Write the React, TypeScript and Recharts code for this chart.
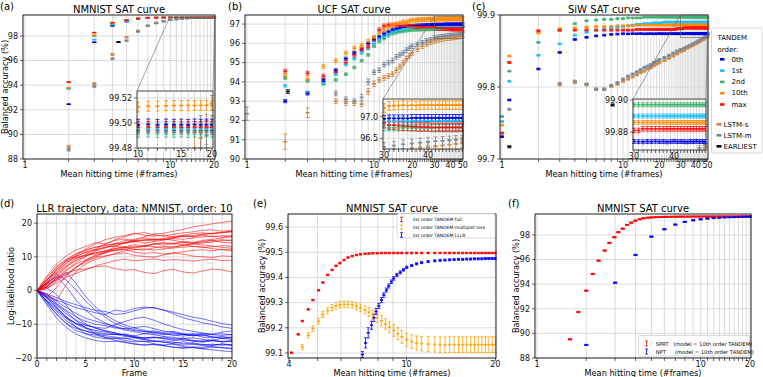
import React from "react";
import { ComposedChart, Scatter, Line, XAxis, YAxis, CartesianGrid, ErrorBar } from "recharts";

const W = 763;
const H = 377;
const FONT = "'DejaVu Sans', sans-serif";
const GRID = "#d2d2d2";

// series colours
const C_O0 = "#0000dd";
const C_O1 = "#1ec0f2";
const C_O2 = "#3cb371";
const C_O10 = "#ff8c00";
const C_MAX = "#ff1010";
const C_LS = "#cd853f";
const C_LM = "#778899";
const C_EA = "#000000";

// ---------- (a) NMNIST SAT curve ----------
const aX = [2, 3, 4, 5, 6, 7, 8, 9, 10, 11, 12, 13, 14, 15, 16, 17, 18, 19, 20];
const aOrd0 = [92.45, 97.48, 98.82, 99.17, 99.37, 99.45, 99.48, 99.49, 99.4985, 99.4988, 99.4984, 99.4987, 99.4985, 99.4986, 99.4984, 99.4987, 99.4985, 99.4986, 99.4985];
const aOrd1 = [93.7, 97.7, 98.9, 99.22, 99.4, 99.46, 99.48, 99.49, 99.4952, 99.4954, 99.4951, 99.4953, 99.4952, 99.4954, 99.4951, 99.4953, 99.4952, 99.4954, 99.4952];
const aOrd2 = [93.76, 98.0, 99.0, 99.26, 99.42, 99.47, 99.485, 99.49, 99.4928, 99.493, 99.4927, 99.4929, 99.4928, 99.493, 99.4927, 99.4929, 99.4928, 99.493, 99.4928];
const aOrd10 = [93.8, 98.05, 99.05, 99.3, 99.45, 99.49, 99.505, 99.51, 99.5128, 99.5134, 99.5136, 99.5138, 99.514, 99.514, 99.5141, 99.514, 99.5141, 99.5142, 99.5142];
const aMax = [94.25, 98.27, 99.08, 99.3, 99.42, 99.48, 99.49, 99.495, 99.4966, 99.4967, 99.4965, 99.4966, 99.4967, 99.4965, 99.4966, 99.4967, 99.4965, 99.4966, 99.4966];
const aLstmS = [89.0, 94.12, 96.5, 97.9, 98.42, 98.85, 99.08, 99.22, 99.3, 99.36, 99.4, 99.43, 99.45, 99.46, 99.47, 99.48, 99.488, 99.495, 99.516];
const aLstmM = [88.75, 93.9, 96.15, 97.62, 98.35, 98.8, 99.02, 99.17, 99.27, 99.33, 99.38, 99.41, 99.44, 99.45, 99.46, 99.47, 99.493, 99.49, 99.5];
const aLstmErr = [0.12, 0.1, 0.08, 0.06, 0.05, 0.04, 0.03, 0.03, 0.02, 0.02, 0.02, 0.015, 0.015, 0.012, 0.012, 0.012, 0.013, 0.012, 0.006];
const aEarlyX = [4.4];
const aEarly = [97.5];

// ---------- (b) UCF SAT curve ----------
const bX = [
  2, 3, 4, 5, 6, 7, 8, 9, 10, 11,
  12, 13, 14, 15, 16, 17, 18, 19, 20, 21,
  22, 23, 24, 25, 26, 27, 28, 29, 30, 31,
  32, 33, 34, 35, 36, 37, 38, 39, 40, 41,
  42, 43, 44, 45, 46, 47, 48, 49, 50,
];
const bOrd0 = [
  93.0, 93.4, 94.1, 94.6, 95.2, 95.5, 95.7, 96.0, 96.2, 96.35,
  96.5, 96.6, 96.7, 96.75, 96.8, 96.85, 96.88, 96.9, 96.9, 96.91,
  96.92, 96.92, 96.93, 96.93, 96.94, 96.94, 96.95, 96.95, 96.95, 96.96,
  96.96, 96.96, 96.96, 96.96, 96.97, 96.97, 96.97, 96.97, 96.97, 96.97,
  96.97, 96.97, 96.97, 96.97, 96.97, 96.97, 96.97, 96.97, 96.97,
];
const bOrd1 = [
  93.8, 93.45, 93.95, 94.4, 94.9, 95.2, 95.5, 95.75, 96.0, 96.2,
  96.35, 96.5, 96.6, 96.65, 96.7, 96.75, 96.78, 96.8, 96.82, 96.83,
  96.84, 96.85, 96.86, 96.86, 96.87, 96.87, 96.88, 96.88, 96.89, 96.89,
  96.89, 96.9, 96.9, 96.9, 96.9, 96.9, 96.9, 96.9, 96.9, 96.9,
  96.9, 96.9, 96.9, 96.9, 96.9, 96.9, 96.9, 96.9, 96.9,
];
const bOrd2 = [
  94.2, 94.05, 93.9, 94.1, 94.4, 94.75, 95.1, 95.4, 95.85, 96.1,
  96.25, 96.4, 96.5, 96.55, 96.6, 96.63, 96.66, 96.68, 96.7, 96.7,
  96.71, 96.71, 96.72, 96.72, 96.73, 96.73, 96.73, 96.74, 96.74, 96.74,
  96.74, 96.74, 96.74, 96.74, 96.74, 96.74, 96.74, 96.74, 96.74, 96.74,
  96.75, 96.75, 96.75, 96.75, 96.75, 96.75, 96.75, 96.75, 96.75,
];
const bOrd10 = [
  94.3, 94.15, 94.8, 95.1, 95.5, 95.75, 95.9, 96.1, 96.3, 96.55,
  96.7, 96.85, 96.95, 97.0, 97.05, 97.1, 97.1, 97.15, 97.2, 97.2,
  97.22, 97.22, 97.23, 97.24, 97.24, 97.25, 97.25, 97.25, 97.2, 97.25,
  97.26, 97.26, 97.27, 97.26, 97.27, 97.26, 97.27, 97.27, 97.27, 97.27,
  97.27, 97.27, 97.27, 97.27, 97.27, 97.27, 97.27, 97.27, 97.27,
];
const bMax = [
  94.55, 94.45, 94.3, 94.5, 95.0, 95.4, 95.7, 95.8, 96.25, 96.7,
  96.9, 96.95, 96.95, 96.95, 96.92, 96.9, 96.9, 96.88, 96.88, 96.87,
  96.86, 96.86, 96.85, 96.85, 96.84, 96.84, 96.83, 96.83, 96.86, 96.8,
  96.8, 96.79, 96.78, 96.78, 96.77, 96.77, 96.76, 96.76, 96.76, 96.75,
  96.75, 96.75, 96.75, 96.75, 96.75, 96.75, 96.75, 96.75, 96.75,
];
const bLstmMX = [1, 5, 6, 7, 8, 9, 10, 11, 12, 13, 14, 15, 16, 17, 18, 19, 20, 22, 24, 26, 28, 30, 32, 34, 36, 38, 40, 42, 44, 46, 48, 50];
const bLstmM = [92.35, 93.4, 93.1, 93.0, 93.2, 94.0, 94.5, 94.6, 94.9, 95.0, 95.1, 95.3, 95.4, 95.5, 95.65, 95.75, 95.85, 95.95, 96.05, 96.15, 96.2, 96.3, 96.33, 96.36, 96.38, 96.4, 96.42, 96.43, 96.44, 96.45, 96.46, 96.47];
const bLstmMErr = [0.35, 0.12, 0.12, 0.12, 0.15, 0.15, 0.12, 0.12, 0.12, 0.12, 0.12, 0.12, 0.12, 0.12, 0.12, 0.12, 0.12, 0.1, 0.1, 0.1, 0.1, 0.1, 0.1, 0.1, 0.1, 0.1, 0.1, 0.1, 0.1, 0.1, 0.1, 0.1];
const bLstmSX = [2, 3, 5, 6, 7, 8, 9, 10, 11, 12, 13, 14, 15, 16, 17, 18, 19, 20, 22, 24, 26, 28, 30, 32, 34, 36, 38, 40, 42, 44, 46, 48, 50];
const bLstmS = [90.9, 92.4, 93.0, 92.9, 92.9, 92.85, 93.5, 93.9, 94.1, 94.2, 94.3, 94.4, 94.6, 94.8, 95.0, 95.2, 95.35, 95.5, 95.7, 95.85, 95.95, 96.05, 96.12, 96.18, 96.22, 96.25, 96.27, 96.29, 96.31, 96.33, 96.35, 96.37, 96.4];
const bLstmSErr = [0.4, 0.25, 0.12, 0.12, 0.12, 0.12, 0.15, 0.15, 0.12, 0.12, 0.12, 0.12, 0.12, 0.12, 0.12, 0.12, 0.12, 0.12, 0.12, 0.12, 0.12, 0.12, 0.12, 0.12, 0.12, 0.12, 0.12, 0.12, 0.12, 0.12, 0.12, 0.12, 0.12];
const bEarlyX = [2.1];
const bEarly = [93.5];

// ---------- (c) SiW SAT curve ----------
const cX = [
  1, 1.15, 2, 3, 4, 5,
  6, 7, 8, 9, 10, 11, 12, 13, 14, 15,
  16, 17, 18, 19, 20, 21, 22, 23, 24, 25,
  26, 27, 28, 29, 30, 31, 32, 33, 34, 35,
  36, 37, 38, 39, 40, 41, 42, 43, 44, 45,
  46, 47, 48, 49, 50,
];
const cOrd0 = [
  99.731, 99.782, 99.825, 99.848, 99.866, 99.869,
  99.871, 99.872, 99.873, 99.8735, 99.874, 99.8738, 99.8741, 99.874, 99.8742, 99.8739,
  99.874, 99.8741, 99.8739, 99.874, 99.8742, 99.874, 99.8741, 99.8739, 99.874, 99.8741,
  99.874, 99.8742, 99.8739, 99.874, 99.8741, 99.874, 99.8739, 99.8741, 99.874, 99.8742,
  99.874, 99.8741, 99.8739, 99.874, 99.8742, 99.874, 99.8741, 99.874, 99.8739, 99.8741,
  99.874, 99.8742, 99.874, 99.8741, 99.874,
];
const cOrd1 = [
  99.752, 99.808, 99.844, 99.86, 99.872, 99.876,
  99.879, 99.881, 99.882, 99.883, 99.884, 99.885, 99.886, 99.887, 99.887, 99.888,
  99.888, 99.888, 99.889, 99.889, 99.889, 99.889, 99.89, 99.89, 99.89, 99.89,
  99.89, 99.89, 99.89, 99.89, 99.89, 99.89, 99.89, 99.89, 99.89, 99.89,
  99.89, 99.89, 99.89, 99.89, 99.89, 99.89, 99.89, 99.89, 99.89, 99.89,
  99.89, 99.89, 99.89, 99.89, 99.89,
];
const cOrd2 = [
  99.759, 99.822, 99.862, 99.879, 99.888, 99.892,
  99.893, 99.894, 99.894, 99.895, 99.895, 99.896, 99.896, 99.896, 99.896, 99.897,
  99.897, 99.897, 99.897, 99.897, 99.897, 99.897, 99.897, 99.897, 99.897, 99.897,
  99.897, 99.897, 99.897, 99.897, 99.897, 99.897, 99.897, 99.897, 99.897, 99.897,
  99.897, 99.897, 99.897, 99.897, 99.897, 99.897, 99.897, 99.897, 99.897, 99.897,
  99.897, 99.897, 99.897, 99.897, 99.897,
];
const cOrd10 = [
  99.747, 99.843, 99.875, 99.881, 99.882, 99.883,
  99.884, 99.884, 99.884, 99.885, 99.885, 99.885, 99.885, 99.886, 99.886, 99.886,
  99.886, 99.886, 99.886, 99.886, 99.886, 99.886, 99.886, 99.886, 99.886, 99.886,
  99.886, 99.886, 99.886, 99.886, 99.886, 99.886, 99.886, 99.886, 99.886, 99.886,
  99.886, 99.886, 99.886, 99.886, 99.886, 99.886, 99.886, 99.886, 99.886, 99.886,
  99.886, 99.886, 99.886, 99.886, 99.886,
];
const cMax = [
  99.736, 99.834, 99.878, 99.879, 99.879, 99.879,
  99.879, 99.879, 99.879, 99.879, 99.879, 99.879, 99.879, 99.88, 99.88, 99.88,
  99.88, 99.88, 99.88, 99.88, 99.88, 99.88, 99.88, 99.88, 99.88, 99.88,
  99.88, 99.88, 99.881, 99.881, 99.881, 99.881, 99.882, 99.882, 99.882, 99.882,
  99.882, 99.882, 99.882, 99.882, 99.882, 99.882, 99.882, 99.882, 99.882, 99.882,
  99.882, 99.882, 99.882, 99.882, 99.882,
];
const cLstmMX = [1.15, 3, 4, 5, 6, 7, 8, 9, 10, 11, 12, 13, 14, 15, 16, 17, 18, 19, 20, 22, 24, 26, 28, 30, 32, 34, 36, 38, 40, 42, 44, 46, 48, 50];
const cLstmM = [
  99.769, 99.805, 99.808, 99.804,
  99.797, 99.797, 99.802, 99.806, 99.811, 99.815, 99.818, 99.821, 99.824, 99.827, 99.829, 99.831, 99.834, 99.836, 99.838,
  99.841, 99.844, 99.847, 99.85, 99.852, 99.854, 99.856, 99.858, 99.86, 99.862, 99.864, 99.866, 99.868, 99.87, 99.872,
];
const cLstmSX = [3, 4, 5, 6, 7, 8, 9, 10, 11, 12, 13, 14, 15, 16, 17, 18, 19, 20, 22, 24, 26, 28, 30, 32, 34, 36, 38, 40, 42, 44, 46, 48, 50];
const cLstmS = [
  99.803, 99.806, 99.803,
  99.797, 99.797, 99.801, 99.804, 99.808, 99.811, 99.814, 99.817, 99.82, 99.822, 99.825, 99.827, 99.83, 99.832, 99.834,
  99.837, 99.84, 99.843, 99.846, 99.849, 99.851, 99.854, 99.856, 99.858, 99.86, 99.862, 99.864, 99.866, 99.868, 99.87,
];
const cEarlyX = [1.15, 8.2];
const cEarly = [99.717, 99.775];

// ---------- (d) LLR trajectories, frames 0..20 ----------
const dFrames = [0, 1, 2, 3, 4, 5, 6, 7, 8, 9, 10, 11, 12, 13, 14, 15, 16, 17, 18, 19, 20];
const dRed = [
  [0, 3.1, 6.2, 8.8, 10.9, 12.1, 12.8, 13.5, 13.9, 14.2, 14.8, 15.0, 15.3, 15.1, 15.8, 16.2, 16.0, 16.6, 16.9, 17.2, 17.4],
  [0, 1.8, 4.6, 7.1, 8.9, 10.2, 11.3, 11.8, 12.4, 12.9, 12.6, 13.1, 13.8, 13.5, 14.0, 14.6, 14.3, 14.9, 15.2, 15.6, 15.9],
  [0, 1.2, 3.4, 5.9, 8.3, 10.1, 11.8, 12.6, 13.9, 14.8, 15.2, 15.9, 16.8, 17.0, 17.6, 18.1, 18.9, 19.3, 19.8, 20.2, 20.6],
  [0, 1.5, 3.8, 5.2, 6.1, 6.4, 7.0, 7.3, 6.5, 6.0, 6.2, 5.4, 5.0, 5.9, 6.3, 5.5, 5.2, 5.8, 6.4, 6.1, 5.5],
  [0, 4.2, 7.9, 10.3, 12.0, 13.1, 14.2, 13.8, 14.9, 15.3, 14.6, 14.1, 14.5, 15.0, 15.4, 15.2, 15.6, 15.9, 16.1, 15.8, 16.3],
  [0, -1.2, -3.0, 1.8, 5.6, 7.9, 9.2, 10.1, 11.0, 11.8, 12.2, 12.0, 12.7, 13.1, 12.9, 13.4, 13.9, 14.1, 14.4, 14.8, 15.0],
  [0, 2.9, 7.2, 9.1, 10.2, 11.3, 12.1, 12.9, 13.2, 12.8, 12.1, 12.4, 12.0, 12.3, 12.6, 12.9, 13.1, 12.8, 13.0, 13.3, 13.1],
  [0, 2.3, 4.1, 6.9, 9.2, 10.8, 12.0, 12.8, 13.3, 14.1, 14.5, 14.9, 15.2, 15.0, 15.6, 16.1, 16.3, 16.8, 17.0, 17.3, 17.5],
  [0, 0.8, 2.2, 3.9, 5.1, 6.2, 7.3, 8.1, 8.9, 9.3, 8.8, 9.1, 9.4, 8.9, 9.2, 9.0, 8.7, 9.1, 9.3, 8.9, 9.0],
  [0, 3.4, 5.3, 8.1, 10.4, 12.3, 13.9, 15.1, 15.8, 16.3, 17.0, 16.4, 16.1, 16.5, 15.8, 16.2, 15.9, 16.4, 16.0, 16.3, 16.1],
  [0, 2.1, 6.3, 8.7, 9.8, 10.6, 11.2, 11.7, 12.0, 12.3, 11.4, 11.0, 11.3, 10.8, 11.2, 11.5, 11.9, 12.1, 11.8, 12.2, 12.0],
  [0, 1.1, 3.9, 6.2, 7.9, 9.1, 10.3, 11.2, 11.9, 12.2, 12.8, 13.2, 13.9, 14.1, 13.8, 14.2, 14.0, 14.6, 14.9, 14.3, 14.1],
  [0, -2.1, 0.9, 4.3, 6.8, 8.9, 10.6, 11.2, 12.0, 12.7, 13.2, 13.0, 13.8, 14.2, 13.9, 13.6, 13.1, 12.9, 12.4, 12.1, 11.9],
  [0, 3.0, 5.8, 8.2, 10.1, 11.4, 12.3, 13.8, 15.1, 16.0, 16.8, 17.2, 16.5, 16.1, 16.7, 17.1, 17.4, 17.9, 18.0, 17.6, 17.9],
  [0, 1.9, 3.2, 4.8, 7.0, 8.8, 9.9, 10.3, 10.8, 11.2, 10.4, 10.1, 9.9, 10.6, 11.1, 10.8, 10.2, 10.0, 9.8, 10.3, 10.1],
  [0, 4.0, 6.8, 9.3, 10.9, 11.8, 12.9, 13.3, 13.8, 14.0, 14.6, 15.0, 14.8, 15.3, 14.9, 14.3, 14.1, 14.4, 14.8, 15.1, 14.7],
  [0, 2.6, 5.1, 7.4, 9.6, 10.4, 10.9, 11.6, 12.5, 13.0, 13.6, 13.3, 13.0, 12.6, 12.9, 13.4, 13.8, 13.5, 13.2, 12.8, 12.5],
  [0, 0.5, 2.8, 4.6, 6.9, 8.4, 9.7, 11.4, 13.1, 14.3, 14.9, 15.6, 15.1, 15.5, 16.0, 16.4, 16.9, 17.1, 16.8, 17.2, 17.6],
];
const dBlue = [
  [0, -3.1, -6.2, -8.9, -10.8, -12.1, -12.9, -13.4, -13.8, -14.2, -14.0, -14.6, -15.1, -14.9, -15.3, -15.8, -15.5, -16.0, -16.2, -15.9, -16.3],
  [0, -1.8, -4.3, -6.9, -8.8, -10.2, -11.1, -12.0, -12.6, -13.2, -13.8, -14.1, -13.9, -14.3, -14.8, -14.6, -15.0, -15.3, -14.9, -15.2, -15.0],
  [0, 2.3, 4.1, 1.2, -2.8, -5.9, -8.1, -9.6, -10.8, -11.7, -12.2, -12.8, -13.1, -13.6, -13.9, -14.2, -14.0, -14.5, -14.8, -15.1, -14.9],
  [0, -1.2, -2.8, -3.9, -5.1, -5.8, -6.6, -7.1, -5.8, -6.2, -5.3, -4.9, -5.2, -5.8, -6.4, -7.2, -7.9, -8.4, -9.1, -9.8, -10.2],
  [0, -4.2, -8.1, -11.0, -12.9, -14.1, -14.8, -15.2, -15.0, -15.4, -15.9, -16.2, -16.0, -16.4, -16.8, -17.1, -16.9, -17.3, -17.6, -17.9, -18.1],
  [0, -2.2, -5.1, -7.8, -9.9, -11.2, -11.8, -12.3, -12.9, -13.1, -13.4, -12.8, -12.3, -12.7, -13.2, -13.5, -13.1, -13.8, -14.0, -13.6, -14.1],
  [0, 1.1, 3.2, 5.4, 2.1, -1.8, -4.9, -7.1, -8.9, -10.2, -11.1, -11.8, -12.4, -12.9, -13.2, -13.0, -13.4, -13.1, -13.7, -14.0, -13.8],
  [0, -3.3, -7.1, -9.8, -11.9, -12.8, -13.2, -13.9, -14.2, -14.1, -14.8, -15.2, -15.0, -15.3, -15.6, -15.2, -15.8, -16.1, -15.9, -16.2, -16.0],
  [0, -0.9, -2.1, -3.3, -4.2, -5.1, -5.9, -6.2, -7.1, -6.8, -6.0, -5.2, -5.0, -5.8, -6.9, -8.1, -8.8, -9.6, -10.1, -10.8, -11.2],
  [0, -2.1, -4.8, -7.9, -9.8, -10.9, -12.2, -12.8, -13.1, -12.9, -13.6, -14.0, -13.8, -14.2, -14.5, -14.1, -14.8, -15.0, -14.6, -14.2, -14.0],
  [0, -2.9, -5.2, -8.1, -10.8, -12.9, -13.8, -14.3, -14.1, -14.8, -15.2, -15.0, -15.8, -16.1, -15.9, -16.6, -16.9, -17.2, -16.8, -17.0, -17.3],
  [0, 2.0, 4.8, 3.1, 0.2, -3.2, -5.8, -7.9, -9.8, -10.8, -11.6, -12.1, -12.8, -13.0, -12.6, -13.1, -12.8, -13.2, -12.9, -12.3, -12.0],
  [0, -1.2, -3.8, -5.9, -7.8, -9.1, -10.0, -10.4, -11.1, -11.3, -11.9, -12.2, -12.0, -12.4, -12.1, -12.8, -13.0, -12.7, -13.1, -13.3, -13.0],
  [0, -3.1, -5.8, -8.2, -9.8, -10.3, -10.9, -11.2, -10.1, -9.2, -8.3, -7.9, -8.8, -9.9, -10.8, -11.6, -12.1, -12.6, -13.0, -12.8, -13.2],
  [0, -2.0, -4.1, -6.2, -8.9, -11.1, -12.8, -13.9, -14.8, -15.2, -15.8, -16.1, -15.9, -16.3, -16.8, -17.0, -16.7, -16.9, -16.2, -15.8, -16.1],
  [0, -3.8, -6.9, -9.8, -11.2, -12.0, -12.6, -13.1, -12.9, -13.6, -13.8, -14.2, -14.0, -13.8, -14.3, -14.6, -14.9, -15.1, -14.8, -15.2, -15.0],
  [0, 0.8, -1.2, -4.3, -7.8, -9.9, -11.2, -11.9, -12.5, -13.3, -13.9, -14.4, -14.9, -15.3, -15.8, -16.2, -15.9, -16.3, -16.6, -16.9, -17.1],
  [0, -1.6, -3.2, -5.0, -6.8, -8.2, -9.1, -9.9, -10.6, -11.4, -11.0, -10.6, -11.3, -12.0, -12.5, -12.9, -13.4, -13.2, -13.8, -14.2, -14.5],
];

// ---------- (e) NMNIST SAT curve, 1st order TANDEM variants ----------
const eFullX = [4.08, 4.3, 4.44, 4.65, 4.82, 5.04, 5.21, 5.41, 5.6, 5.77, 5.95, 6.15, 6.34, 6.55, 6.77, 6.98, 7.24, 7.46, 7.69, 7.96, 8.23, 8.49, 8.75, 9.05, 9.35, 9.64, 10.02, 10.42, 10.82, 11.25, 11.84, 12.47, 13.0, 13.5, 14.0, 14.5, 15.0, 15.5, 16.0, 16.5, 17.0, 17.5, 18.0, 18.5, 19.0, 19.5, 20.0];
const eFull = [99.101, 99.174, 99.227, 99.273, 99.31, 99.349, 99.38, 99.41, 99.43, 99.446, 99.457, 99.469, 99.479, 99.485, 99.489, 99.492, 99.494, 99.495, 99.496, 99.496, 99.497, 99.497, 99.497, 99.497, 99.497, 99.497, 99.497, 99.497, 99.497, 99.497, 99.497, 99.497, 99.497, 99.497, 99.497, 99.497, 99.497, 99.497, 99.497, 99.497, 99.497, 99.497, 99.497, 99.497, 99.497, 99.497, 99.497];
const eMultX = [4.44, 4.65, 4.82, 5.04, 5.21, 5.41, 5.6, 5.77, 5.95, 6.15, 6.34, 6.55, 6.77, 6.98, 7.24, 7.46, 7.69, 7.96, 8.23, 8.49, 8.75, 9.05, 9.35, 9.64, 10.02, 10.42, 10.82, 11.25, 11.84, 12.47, 13.0, 13.5, 14.0, 14.5, 15.0, 15.5, 16.0, 16.5, 17.0, 17.5, 18.0, 18.5, 19.0, 19.5, 20.0];
const eMult = [99.123, 99.17, 99.197, 99.226, 99.253, 99.268, 99.28, 99.287, 99.291, 99.293, 99.293, 99.291, 99.286, 99.279, 99.271, 99.262, 99.252, 99.24, 99.228, 99.215, 99.202, 99.189, 99.176, 99.164, 99.153, 99.145, 99.14, 99.137, 99.135, 99.134, 99.133, 99.133, 99.133, 99.133, 99.133, 99.133, 99.133, 99.133, 99.133, 99.133, 99.133, 99.133, 99.133, 99.133, 99.133];
const eMultErr = [0.01, 0.011, 0.011, 0.011, 0.012, 0.012, 0.012, 0.013, 0.013, 0.013, 0.013, 0.013, 0.014, 0.015, 0.016, 0.017, 0.018, 0.019, 0.02, 0.021, 0.022, 0.023, 0.024, 0.025, 0.026, 0.027, 0.028, 0.029, 0.03, 0.03, 0.031, 0.031, 0.031, 0.031, 0.031, 0.031, 0.031, 0.031, 0.031, 0.031, 0.031, 0.031, 0.031, 0.031, 0.031];
const eLlrX = [7.09, 7.27, 7.42, 7.62, 7.76, 7.89, 8.06, 8.23, 8.38, 8.55, 8.71, 8.89, 9.05, 9.28, 9.53, 9.77, 10.02, 10.42, 10.82, 11.25, 11.84, 12.47, 13.0, 13.5, 14.0, 14.5, 15.0, 15.5, 16.0, 16.5, 17.0, 17.5, 18.0, 18.5, 19.0, 19.5, 20.0];
const eLlr = [99.094, 99.14, 99.18, 99.21, 99.24, 99.265, 99.287, 99.31, 99.33, 99.35, 99.366, 99.383, 99.396, 99.41, 99.42, 99.43, 99.44, 99.447, 99.454, 99.459, 99.463, 99.466, 99.468, 99.469, 99.47, 99.471, 99.472, 99.472, 99.473, 99.473, 99.474, 99.474, 99.474, 99.475, 99.475, 99.475, 99.475];
const eLlrErr = [0.012, 0.02, 0.02, 0.016, 0.015, 0.012, 0.01, 0.01, 0.009, 0.008, 0.008, 0.007, 0.007, 0.006, 0.006, 0.005, 0.005, 0.004, 0.004, 0.004, 0.004, 0.004, 0.004, 0.004, 0.004, 0.004, 0.004, 0.004, 0.004, 0.004, 0.004, 0.004, 0.004, 0.004, 0.004, 0.004, 0.004];

// ---------- (f) NMNIST SAT curve, SPRT vs NPT ----------
const fSprtX = [1.59, 1.79, 2.0, 2.19, 2.38, 2.59, 2.77, 2.97, 3.14, 3.34, 3.55, 3.76, 3.99, 4.24, 4.47, 4.75, 5.0, 5.3, 5.6, 5.9, 6.2, 6.6, 7.0, 7.4, 7.8, 8.3, 8.8, 9.3, 9.8, 10.4, 11.0, 11.6, 12.2, 12.9, 13.6, 14.3, 15.0, 15.8, 16.6, 17.4, 18.2, 19.1, 20.0];
const fSprt = [89.52, 91.74, 93.47, 94.83, 95.91, 96.73, 97.35, 97.81, 98.22, 98.51, 98.81, 99.0, 99.16, 99.27, 99.35, 99.4, 99.42, 99.44, 99.45, 99.46, 99.47, 99.475, 99.48, 99.485, 99.488, 99.49, 99.492, 99.493, 99.494, 99.495, 99.495, 99.496, 99.496, 99.496, 99.497, 99.497, 99.497, 99.497, 99.497, 99.497, 99.497, 99.497, 99.497];
const fNptX = [2, 3, 4, 5, 6, 7, 8, 9, 10, 11, 12, 13, 14, 15, 16, 17, 18, 19, 20];
const fNpt = [89.06, 94.12, 96.37, 97.86, 98.46, 98.84, 99.06, 99.19, 99.27, 99.33, 99.38, 99.4, 99.43, 99.44, 99.45, 99.46, 99.47, 99.48, 99.48];

// ---------- layout ----------
type Geo = { x1: number; x2: number; y1: number; y2: number; xd: [number, number]; yd: [number, number]; log: boolean };
const GA: Geo = { x1: 23, x2: 215, y1: 15, y2: 159, xd: [0.97, 20.3], yd: [88, 99.7], log: true };
const GB: Geo = { x1: 245, x2: 463, y1: 15, y2: 159, xd: [0.965, 50.2], yd: [90, 97.47], log: true };
const GC: Geo = { x1: 500, x2: 708, y1: 15, y2: 159, xd: [0.963, 50.4], yd: [99.7, 99.9], log: true };
const GD: Geo = { x1: 37, x2: 232, y1: 214, y2: 358, xd: [0, 20], yd: [-20, 22.7], log: false };
const GE: Geo = { x1: 288, x2: 496, y1: 214, y2: 358, xd: [3.97, 20.1], yd: [99.08, 99.652], log: true };
const GF: Geo = { x1: 535, x2: 751, y1: 214, y2: 358, xd: [0.972, 20.3], yd: [88, 99.7], log: true };
const IA: Geo = { x1: 137, x2: 213, y1: 91, y2: 148, xd: [9.9, 20.2], yd: [99.48, 99.5256], log: true };
const IB: Geo = { x1: 383, x2: 463, y1: 99, y2: 149, xd: [29.8, 50.3], yd: [96.25, 97.41], log: true };
const IC: Geo = { x1: 633, x2: 706, y1: 99, y2: 150, xd: [29.8, 50.3], yd: [99.8688, 99.9006], log: true };

const px = (g: Geo, x: number) =>
  g.log
    ? g.x1 + (Math.log10(x / g.xd[0]) / Math.log10(g.xd[1] / g.xd[0])) * (g.x2 - g.x1)
    : g.x1 + ((x - g.xd[0]) / (g.xd[1] - g.xd[0])) * (g.x2 - g.x1);
const py = (g: Geo, y: number) => g.y2 - ((y - g.yd[0]) / (g.yd[1] - g.yd[0])) * (g.y2 - g.y1);

type S = { xs: number[]; ys: number[]; e: number | number[]; color: string; mw?: number };

// points inside the axes; error bars trimmed to the axes box
const pts = (s: S, g: Geo) =>
  s.ys
    .map((y, i) => {
      const e = typeof s.e === "number" ? s.e : s.e[i];
      return { x: s.xs[i], y, e: [Math.min(e, y - g.yd[0]), Math.min(e, g.yd[1] - y)] };
    })
    .filter((p) => p.x >= g.xd[0] && p.x <= g.xd[1] && p.y >= g.yd[0] && p.y <= g.yd[1]);

const TICK = { fontSize: 8, fill: "#111", fontFamily: FONT };
const range = (a: number, b: number) => Array.from({ length: b - a + 1 }, (_, i) => a + i);

const tandemA: S[] = [
  { xs: aX, ys: aLstmS, e: aLstmErr, color: C_LS },
  { xs: aX, ys: aLstmM, e: aLstmErr, color: C_LM },
  { xs: aX, ys: aOrd0, e: 0.0045, color: C_O0 },
  { xs: aX, ys: aOrd1, e: 0.0045, color: C_O1 },
  { xs: aX, ys: aOrd2, e: 0.0042, color: C_O2 },
  { xs: aX, ys: aOrd10, e: 0.004, color: C_O10 },
  { xs: aX, ys: aMax, e: 0.0045, color: C_MAX },
  { xs: aEarlyX, ys: aEarly, e: 0.03, color: C_EA },
];
const tandemB: S[] = [
  { xs: bLstmSX, ys: bLstmS, e: bLstmSErr, color: C_LS },
  { xs: bLstmMX, ys: bLstmM, e: bLstmMErr, color: C_LM },
  { xs: bX, ys: bOrd2, e: 0.07, color: C_O2 },
  { xs: bX, ys: bOrd1, e: 0.07, color: C_O1 },
  { xs: bX, ys: bOrd0, e: 0.08, color: C_O0 },
  { xs: bX, ys: bMax, e: 0.1, color: C_MAX },
  { xs: bX, ys: bOrd10, e: 0.1, color: C_O10 },
  { xs: bEarlyX, ys: bEarly, e: 0.1, color: C_EA },
];
const tandemC: S[] = [
  { xs: cLstmSX, ys: cLstmS, e: 0.0015, color: C_LS },
  { xs: cLstmMX, ys: cLstmM, e: 0.0015, color: C_LM },
  { xs: cX, ys: cOrd0, e: 0.0012, color: C_O0 },
  { xs: cX, ys: cOrd1, e: 0.0012, color: C_O1 },
  { xs: cX, ys: cOrd2, e: 0.0012, color: C_O2 },
  { xs: cX, ys: cOrd10, e: 0.0012, color: C_O10 },
  { xs: cX, ys: cMax, e: 0.0014, color: C_MAX },
  { xs: cEarlyX, ys: cEarly, e: 0.0015, color: C_EA },
];
const seriesE: S[] = [
  { xs: eFullX, ys: eFull, e: 0.003, color: "#ff0000", mw: 3 },
  { xs: eMultX, ys: eMult, e: eMultErr, color: "#ffa500", mw: 3 },
  { xs: eLlrX, ys: eLlr, e: eLlrErr, color: "#0000ff", mw: 3 },
];
const seriesF: S[] = [
  { xs: fSprtX, ys: fSprt, e: 0.05, color: "#ff0000", mw: 4 },
  { xs: fNptX, ys: fNpt, e: 0.05, color: "#0000ff", mw: 4 },
];

const dRows = dFrames.map((f, i) => {
  const row: Record<string, number> = { f };
  dRed.forEach((t, k) => (row["r" + k] = t[i]));
  dBlue.forEach((t, k) => (row["b" + k] = t[i]));
  return row;
});

// the 1px axis band on the left and bottom is taken off the margin
const marginOf = (g: Geo) => ({ left: g.x1 - 1, top: g.y1, right: W - g.x2, bottom: H - g.y2 - 1 });

function SatPanel(props: {
  g: Geo;
  gridX: number[];
  labX: number[];
  yTicks: number[];
  yFmt: (v: number) => string;
  series: S[];
  cap?: number;
  bg?: boolean;
}) {
  const { g, gridX, labX, yTicks, yFmt, series, cap = 2, bg = false } = props;
  return (
    <div style={{ position: "absolute", left: 0, top: 0 }}>
      <ComposedChart width={W} height={H} margin={marginOf(g)}>
        <CartesianGrid stroke={GRID} strokeWidth={0.8} fill={bg ? "#fff" : "none"} fillOpacity={1} />
        <XAxis
          type="number"
          dataKey="x"
          scale={g.log ? "log" : "linear"}
          domain={g.xd}
          allowDataOverflow
          ticks={gridX}
          interval={0}
          tickFormatter={(v: number) => (labX.includes(v) ? String(v) : "")}
          height={1}
          axisLine={false}
          tickSize={3}
          tickMargin={0}
          tickLine={{ stroke: "#000", strokeWidth: 0.6 }}
          tick={TICK}
        />
        <YAxis
          type="number"
          dataKey="y"
          domain={g.yd}
          allowDataOverflow
          ticks={yTicks}
          interval={0}
          tickFormatter={yFmt}
          width={1}
          axisLine={false}
          tickSize={3}
          tickLine={{ stroke: "#000", strokeWidth: 0.6 }}
          tick={TICK}
        />
        {series.map((s, i) => (
          <Scatter
            key={i}
            data={pts(s, g)}
            fill={s.color}
            isAnimationActive={false}
            shape={(p: any) => (
              <rect x={p.cx - (s.mw ?? 4) / 2} y={p.cy - 0.8} width={s.mw ?? 4} height={1.6} fill={s.color} />
            )}
          >
            <ErrorBar dataKey="e" direction="y" width={cap} stroke={s.color} strokeWidth={0.8} isAnimationActive={false} />
          </Scatter>
        ))}
      </ComposedChart>
    </div>
  );
}

function LlrPanel() {
  const g = GD;
  return (
    <div style={{ position: "absolute", left: 0, top: 0 }}>
      <ComposedChart width={W} height={H} margin={marginOf(g)} data={dRows}>
        <CartesianGrid stroke={GRID} strokeWidth={0.8} />
        <XAxis
          type="number"
          dataKey="f"
          domain={g.xd}
          allowDataOverflow
          ticks={range(0, 20)}
          interval={0}
          tickFormatter={(v: number) => (v % 5 === 0 ? String(v) : "")}
          height={1}
          axisLine={false}
          tickSize={3}
          tickMargin={0}
          tickLine={{ stroke: "#000", strokeWidth: 0.6 }}
          tick={TICK}
        />
        <YAxis
          type="number"
          domain={g.yd}
          allowDataOverflow
          ticks={[-20, -10, 0, 10, 20]}
          interval={0}
          tickFormatter={(v: number) => String(v).replace("-", "\u2212")}
          width={1}
          axisLine={false}
          tickSize={3}
          tickLine={{ stroke: "#000", strokeWidth: 0.6 }}
          tick={TICK}
        />
        {dBlue.map((_, k) => (
          <Line key={"b" + k} dataKey={"b" + k} stroke="#0000ff" strokeOpacity={0.8} strokeWidth={0.7} dot={false} isAnimationActive={false} />
        ))}
        {dRed.map((_, k) => (
          <Line key={"r" + k} dataKey={"r" + k} stroke="#ff0000" strokeOpacity={0.8} strokeWidth={0.7} dot={false} isAnimationActive={false} />
        ))}
      </ComposedChart>
    </div>
  );
}

const frame = (g: Geo, k: string) => (
  <rect key={k} x={g.x1} y={g.y1} width={g.x2 - g.x1} height={g.y2 - g.y1} fill="none" stroke="#000" strokeWidth={0.8} />
);

const ebGlyph = (x: number, y: number, color: string, h: number) => (
  <g stroke={color} strokeWidth={0.8}>
    <line x1={x} y1={y - h / 2} x2={x} y2={y + h / 2} />
    <line x1={x - 1.5} y1={y - h / 2} x2={x + 1.5} y2={y - h / 2} />
    <line x1={x - 1.5} y1={y + h / 2} x2={x + 1.5} y2={y + h / 2} />
  </g>
);

const legendC = [
  { t: "0th", c: C_O0 },
  { t: "1st", c: C_O1 },
  { t: "2nd", c: C_O2 },
  { t: "10th", c: C_O10 },
  { t: "max", c: C_MAX },
];
const legendC2 = [
  { t: "LSTM-s", c: C_LS },
  { t: "LSTM-m", c: C_LM },
  { t: "EARLIEST", c: C_EA },
];

function Overlay() {
  const insets: [Geo, Geo][] = [
    [GA, IA],
    [GB, IB],
    [GC, IC],
  ];
  return (
    <svg width={W} height={H} style={{ position: "absolute", left: 0, top: 0 }} fontFamily={FONT}>
      {[GA, GB, GC, GD, GE, GF].map((g, i) => frame(g, "f" + i))}
      {insets.map(([g, ig], i) => {
        const zx1 = px(g, ig.xd[0]);
        const zx2 = Math.min(px(g, ig.xd[1]), g.x2);
        const zy1 = Math.max(py(g, ig.yd[1]), g.y1);
        const zy2 = py(g, ig.yd[0]);
        return (
          <g key={"z" + i} stroke="#666" strokeWidth={0.6} fill="none">
            <rect x={zx1} y={zy1} width={zx2 - zx1} height={zy2 - zy1} />
            <line x1={ig.x1} y1={ig.y1} x2={zx1} y2={zy1} />
            <line x1={ig.x2} y1={ig.y1} x2={zx2} y2={zy1} />
            <rect x={ig.x1} y={ig.y1} width={ig.x2 - ig.x1} height={ig.y2 - ig.y1} stroke="#333" strokeWidth={0.8} />
          </g>
        );
      })}

      {/* panel letters */}
      <g fontSize={10} fill="#000">
        <text x={0} y={10}>(a)</text>
        <text x={228} y={10}>(b)</text>
        <text x={472} y={10}>(c)</text>
        <text x={0} y={207}>(d)</text>
        <text x={253} y={207}>(e)</text>
        <text x={508} y={207}>(f)</text>
      </g>

      {/* titles */}
      <g fontSize={10} fill="#000" textAnchor="middle">
        <text x={(GA.x1 + GA.x2) / 2} y={12.5}>NMNIST SAT curve</text>
        <text x={(GB.x1 + GB.x2) / 2} y={12.5}>UCF SAT curve</text>
        <text x={(GC.x1 + GC.x2) / 2} y={12.5}>SiW SAT curve</text>
        <text x={(GD.x1 + GD.x2) / 2} y={211.5}>LLR trajectory, data: NMNIST, order: 10</text>
        <text x={(GE.x1 + GE.x2) / 2} y={211.5}>NMNIST SAT curve</text>
        <text x={(GF.x1 + GF.x2) / 2} y={211.5}>NMNIST SAT curve</text>
      </g>

      {/* axis labels */}
      <g fontSize={8.2} fill="#000" textAnchor="middle">
        <text x={(GA.x1 + GA.x2) / 2} y={177}>Mean hitting time (#frames)</text>
        <text x={(GB.x1 + GB.x2) / 2} y={177}>Mean hitting time (#frames)</text>
        <text x={(GC.x1 + GC.x2) / 2} y={177}>Mean hitting time (#frames)</text>
        <text x={(GD.x1 + GD.x2) / 2} y={375.5}>Frame</text>
        <text x={(GE.x1 + GE.x2) / 2} y={375.5}>Mean hitting time (#frames)</text>
        <text x={(GF.x1 + GF.x2) / 2} y={375.5}>Mean hitting time (#frames)</text>
        <text transform={`translate(7.5,${(GA.y1 + GA.y2) / 2}) rotate(-90)`}>Balanced accuracy (%)</text>
        <text transform={`translate(13.5,${(GD.y1 + GD.y2) / 2}) rotate(-90)`}>Log-likelihood ratio</text>
        <text transform={`translate(265,${(GE.y1 + GE.y2) / 2}) rotate(-90)`}>Balanced accuracy (%)</text>
        <text transform={`translate(518.5,${(GF.y1 + GF.y2) / 2}) rotate(-90)`}>Balanced accuracy (%)</text>
      </g>

      {/* legend (c) */}
      <g fontSize={7} fill="#000">
        <rect x={711.5} y={28} width={50.5} height={125} rx={2} fill="#fff" fillOpacity={0.9} stroke="#ccc" strokeWidth={0.8} />
        <text x={717.5} y={40}>TANDEM</text>
        <text x={717.5} y={51.5}>order:</text>
        {legendC.map((d, i) => (
          <g key={d.t}>
            <rect x={720} y={58 + i * 11.3} width={4.5} height={2.6} fill={d.c} />
            <text x={731.5} y={61.5 + i * 11.3}>{d.t}</text>
          </g>
        ))}
        {legendC2.map((d, i) => (
          <g key={d.t}>
            <rect x={716.5} y={123 + i * 11} width={5} height={2.6} fill={d.c} />
            <text x={723.5} y={126.5 + i * 11}>{d.t}</text>
          </g>
        ))}
      </g>

      {/* legend (e) */}
      <g fontSize={4.5} fill="#000">
        <rect x={397} y={213.5} width={98} height={24.5} rx={1.5} fill="#fff" fillOpacity={0.9} stroke="#ccc" strokeWidth={0.7} />
        {ebGlyph(401.5, 219.5, "#ff0000", 4.5)}
        {ebGlyph(401.5, 227.3, "#ffa500", 4.5)}
        {ebGlyph(401.5, 235, "#0000ff", 4.5)}
        <text x={412.5} y={221.2}>1st order TANDEM full</text>
        <text x={412.5} y={229}>1st order TANDEM multiplet loss</text>
        <text x={412.5} y={236.7}>1st order TANDEM LLLR</text>
      </g>

      {/* legend (f) */}
      <g fontSize={5.2} fill="#000">
        <rect x={638.5} y={335.5} width={111} height={20.5} rx={1.5} fill="#fff" fillOpacity={0.9} stroke="#ccc" strokeWidth={0.7} />
        {ebGlyph(646.5, 343.5, "#ff0000", 5)}
        {ebGlyph(646.5, 351.5, "#0000ff", 5)}
        <text x={655.7} y={345.5}>SPRT</text>
        <text x={673.3} y={345.5}>(model = 10th order TANDEM)</text>
        <text x={655.7} y={353.5}>NPT</text>
        <text x={675} y={353.5}>(model = 10th order TANDEM)</text>
      </g>
    </svg>
  );
}

export default function App() {
  return (
    <div style={{ position: "absolute", left: 0, top: 0, width: W, height: H, background: "#fff", overflow: "hidden", fontFamily: FONT }}>
      <SatPanel g={GA} gridX={range(1, 20)} labX={[1, 10, 20]} yTicks={[88, 90, 92, 94, 96, 98]} yFmt={(v) => String(v)} series={tandemA} />
      <SatPanel g={GB} gridX={range(1, 50)} labX={[1, 10, 20, 30, 40, 50]} yTicks={[90, 91, 92, 93, 94, 95, 96, 97]} yFmt={(v) => String(v)} series={tandemB} />
      <SatPanel g={GC} gridX={range(1, 50)} labX={[1, 10, 20, 30, 40, 50]} yTicks={[99.7, 99.8, 99.9]} yFmt={(v) => v.toFixed(1)} series={tandemC} />
      <LlrPanel />
      <SatPanel g={GE} gridX={[4, 5, 6, 7, 8, 9, 10, 20]} labX={[4, 10, 20]} yTicks={[99.1, 99.2, 99.3, 99.4, 99.5, 99.6]} yFmt={(v) => v.toFixed(1)} series={seriesE} cap={1.6} />
      <SatPanel g={GF} gridX={range(1, 20)} labX={[1, 10, 20]} yTicks={[88, 90, 92, 94, 96, 98]} yFmt={(v) => String(v)} series={seriesF} />
      <SatPanel g={IA} gridX={range(10, 20)} labX={[10, 15, 20]} yTicks={[99.48, 99.5, 99.52]} yFmt={(v) => v.toFixed(2)} series={tandemA} bg />
      <SatPanel g={IB} gridX={range(30, 50)} labX={[30, 40]} yTicks={[96.5, 97.0]} yFmt={(v) => v.toFixed(1)} series={tandemB} bg />
      <SatPanel g={IC} gridX={range(30, 50)} labX={[30, 40]} yTicks={[99.88, 99.9]} yFmt={(v) => v.toFixed(2)} series={tandemC} bg />
      <Overlay />
    </div>
  );
}
